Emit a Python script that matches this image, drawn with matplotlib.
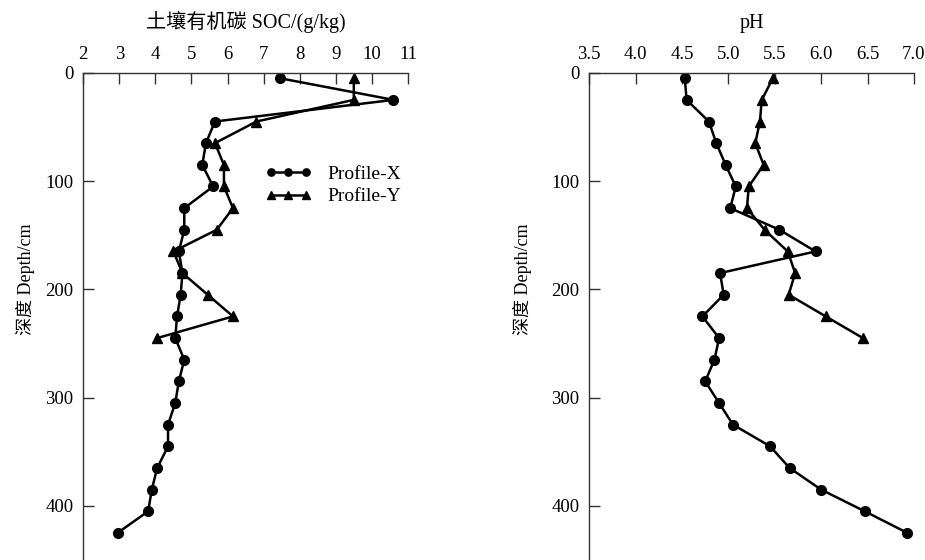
import numpy as np
import matplotlib
matplotlib.use("Agg")
import matplotlib.pyplot as plt

plt.rcParams["font.family"] = ["Liberation Serif", "Noto Sans CJK SC"]

# sampling depths (cm), mid points of 20 cm layers
depth_x = [5, 25, 45, 65, 85, 105, 125, 145, 165, 185, 205, 225, 245,
           265, 285, 305, 325, 345, 365, 385, 405, 425]
depth_y = [5, 25, 45, 65, 85, 105, 125, 145, 165, 185, 205, 225, 245]

soc_x = [7.45, 10.6, 5.65, 5.4, 5.3, 5.6, 4.8, 4.8, 4.65, 4.75, 4.7, 4.6, 4.55,
         4.8, 4.65, 4.55, 4.35, 4.35, 4.05, 3.9, 3.8, 2.95]
soc_y = [9.5, 9.5, 6.8, 5.65, 5.9, 5.9, 6.15, 5.7, 4.5, 4.75, 5.45, 6.15, 4.05]

ph_x = [4.53, 4.55, 4.79, 4.87, 4.97, 5.08, 5.02, 5.55, 5.94, 4.91, 4.95, 4.72, 4.90,
        4.85, 4.75, 4.90, 5.05, 5.45, 5.66, 6.0, 6.47, 6.93]
ph_y = [5.48, 5.36, 5.34, 5.29, 5.38, 5.22, 5.20, 5.39, 5.64, 5.72, 5.65, 6.05, 6.45]

soc_ticks = list(range(2, 12))
ph_ticks = [3.5, 4.0, 4.5, 5.0, 5.5, 6.0, 6.5, 7.0]
depth_ticks = [0, 100, 200, 300, 400]

fig = plt.figure(figsize=(9.25, 5.6), dpi=100)
ax1 = fig.add_axes([0.090, 0.0, 0.351, 0.870])
ax2 = fig.add_axes([0.637, 0.0, 0.351, 0.870])


def style_axis(ax, xlim, xticks, xlabels, title):
    ax.set_xlim(*xlim)
    ax.set_ylim(450, 0)
    ax.xaxis.tick_top()
    ax.set_xticks(xticks)
    ax.set_xticklabels(xlabels)
    ax.set_yticks(depth_ticks)
    for s in ["right", "bottom"]:
        ax.spines[s].set_visible(False)
    for s in ["top", "left"]:
        ax.spines[s].set_linewidth(1.0)
        ax.spines[s].set_color("#333333")
    ax.tick_params(axis="both", direction="in", length=8, width=1.0,
                   color="#333333", labelsize=13.5, pad=7)
    ax.set_title(title, fontsize=14.5, pad=32)
    ax.set_ylabel("深度 Depth/cm", fontsize=13)


line_kw = dict(color="black", lw=1.8)

ax1.plot(soc_x, depth_x, marker="o", ms=7, label="Profile-X", **line_kw)
ax1.plot(soc_y, depth_y, marker="^", ms=7, label="Profile-Y", **line_kw)
style_axis(ax1, (2, 11), soc_ticks, [str(t) for t in soc_ticks], "土壤有机碳 SOC/(g/kg)")
ax1.yaxis.set_label_coords(-0.15, 0.577)
ax1.legend(loc="upper left", bbox_to_anchor=(0.53, 0.83), frameon=False,
           numpoints=3, markerscale=0.75, handlelength=2.4, handletextpad=0.8,
           labelspacing=0.25, fontsize=14, borderpad=0)

ax2.plot(ph_x, depth_x, marker="o", ms=7, **line_kw)
ax2.plot(ph_y, depth_y, marker="^", ms=7, **line_kw)
style_axis(ax2, (3.5, 7.0), ph_ticks, [f"{t:.1f}" for t in ph_ticks], "pH")
ax2.yaxis.set_label_coords(-0.176, 0.577)

fig.savefig("out.png", dpi=100)
